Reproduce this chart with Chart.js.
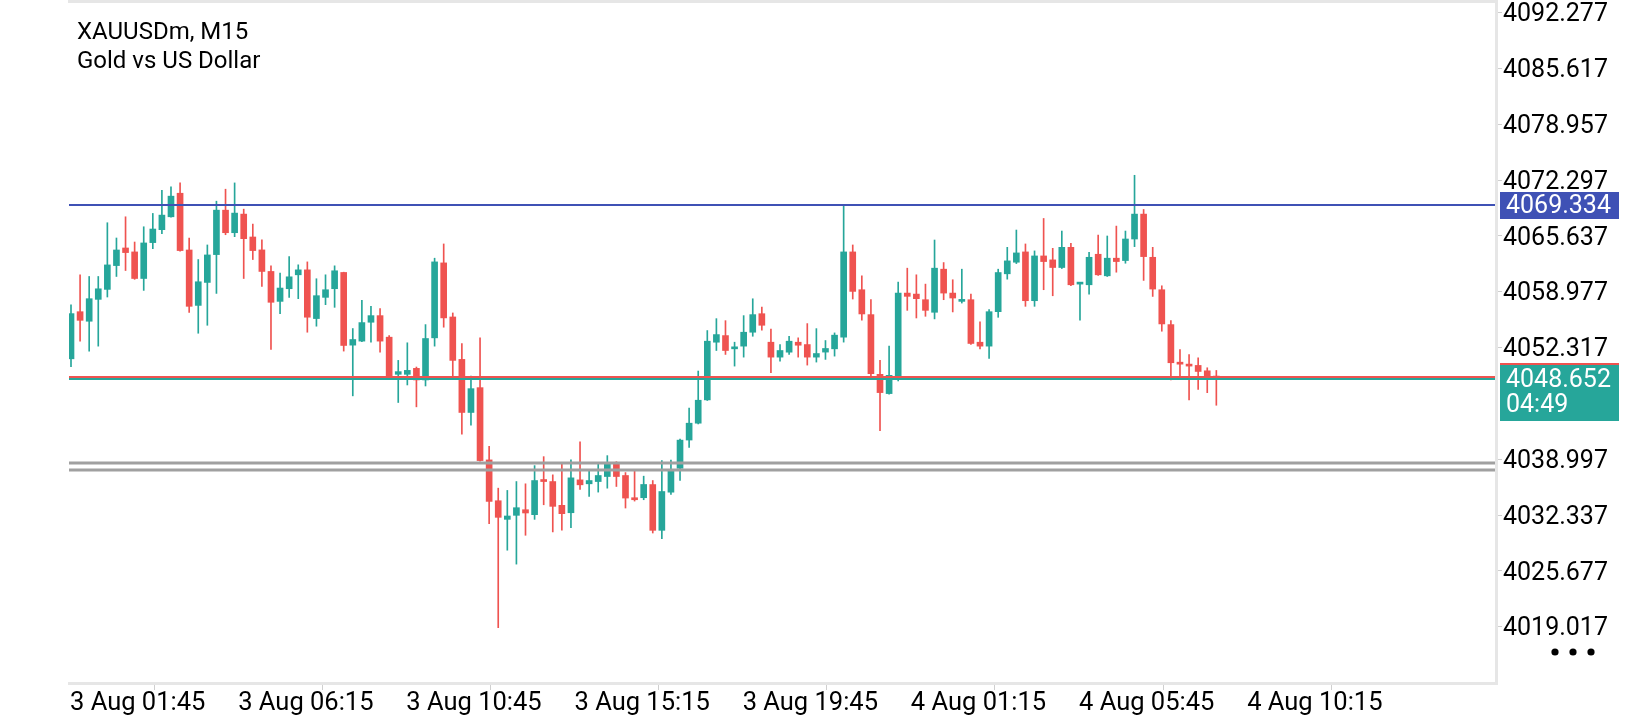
<!DOCTYPE html>
<html>
<head>
<meta charset="utf-8">
<script src="https://cdn.jsdelivr.net/npm/chart.js@4.4.1/dist/chart.umd.min.js"></script>
<style>
html, body { margin: 0; padding: 0; background: #fff; }
#wrap { width: 1640px; height: 720px; }
</style>
</head>
<body>
<div id="wrap"><canvas id="chart" width="1640" height="720"></canvas></div>
<script>
// symbol header
var symbolTitle = 'XAUUSDm, M15';
var symbolName = 'Gold vs US Dollar';

// time axis labels (left to right)
var timeLabels = ['3 Aug 01:45', '3 Aug 06:15', '3 Aug 10:45', '3 Aug 15:15',
	'3 Aug 19:45', '4 Aug 01:15', '4 Aug 05:45', '4 Aug 10:15'];

// price axis labels shown on the right
var priceTicks = [4092.277, 4085.617, 4078.957, 4072.297, 4065.637, 4058.977,
	4052.317, 4038.997, 4032.337, 4025.677, 4019.017];

// M15 candles
var opens = [4050.97,4056.59,4055.45,4058.06,4059.25,4062.09,4064.19,4063.72,4060.55,4064.83,
	4066.37,4067.91,4070.72,4063.95,4057.34,4060.08,4063.40,4068.70,4066.01,4068.23,
	4065.50,4063.96,4061.39,4057.82,4059.33,4060.99,4061.58,4055.77,4058.30,4059.33,
	4061.27,4052.60,4053.08,4055.33,4056.12,4053.55,4049.12,4049.12,4049.83,4048.45,
	4053.47,4062.41,4055.96,4050.90,4044.57,4047.53,4038.91,4034.04,4031.82,4032.30,
	4032.97,4032.38,4036.57,4036.33,4033.49,4032.61,4036.53,4036.06,4036.33,4036.93,
	4038.55,4037.05,4034.40,4034.40,4035.97,4030.51,4035.06,4037.91,4041.28,4043.29,
	4046.07,4052.95,4053.74,4052.16,4052.48,4054.14,4056.35,4052.95,4051.17,4051.76,
	4052.95,4052.67,4051.17,4051.77,4052.16,4053.55,4063.72,4059.21,4056.24,4049.12,
	4046.82,4048.92,4058.81,4058.69,4058.02,4056.52,4061.66,4058.81,4057.82,4058.02,
	4052.95,4052.48,4056.59,4061.11,4062.49,4063.72,4057.90,4063.24,4062.77,4061.86,
	4064.27,4059.88,4059.80,4063.44,4060.87,4062.97,4062.69,4065.26,4068.23,4063.08,
	4059.21,4055.05,4050.37,4050.33,4050.18,4049.54,4048.91];
var highs = [4057.42,4060.99,4060.79,4060.79,4067.20,4065.38,4067.91,4064.90,4066.72,4068.31,
	4071.08,4071.47,4071.95,4065.38,4062.81,4064.55,4069.77,4071.20,4071.95,4068.82,
	4067.04,4065.15,4062.06,4061.19,4063.17,4062.18,4062.53,4060.52,4060.99,4062.06,
	4061.30,4054.58,4057.94,4057.23,4056.95,4053.75,4050.78,4052.88,4049.99,4055.05,
	4062.97,4064.67,4056.44,4052.80,4048.92,4053.47,4040.53,4035.54,4035.27,4036.33,
	4036.06,4038.23,4039.30,4037.13,4038.55,4038.91,4041.08,4037.64,4038.51,4039.42,
	4038.70,4037.40,4037.64,4036.97,4036.45,4038.82,4038.90,4041.40,4045.08,4049.51,
	4054.34,4055.76,4055.52,4052.95,4056.12,4058.13,4057.15,4054.53,4052.67,4053.66,
	4053.47,4055.17,4054.57,4053.15,4054.06,4069.30,4064.55,4060.87,4058.02,4050.78,
	4052.48,4060.12,4061.78,4060.99,4059.88,4065.14,4062.45,4060.40,4061.66,4058.69,
	4055.37,4056.83,4061.66,4064.27,4066.33,4064.67,4063.84,4067.71,4064.15,4066.21,
	4064.75,4059.99,4063.68,4065.74,4065.62,4066.80,4066.21,4072.86,4068.78,4064.27,
	4059.68,4055.53,4052.08,4051.48,4051.09,4049.90,4049.58];
var lows = [4050.03,4053.07,4051.88,4052.48,4058.34,4060.79,4061.50,4060.45,4059.13,4064.11,
	4065.89,4067.85,4063.80,4056.51,4054.02,4054.97,4058.77,4065.77,4065.54,4060.55,
	4062.81,4059.61,4052.09,4056.36,4058.30,4058.14,4054.14,4054.86,4057.43,4057.11,
	4051.89,4046.55,4053.00,4052.96,4051.77,4048.60,4045.76,4047.85,4045.24,4047.73,
	4052.48,4054.74,4048.52,4041.99,4043.06,4038.75,4031.31,4018.90,4028.14,4026.48,
	4029.92,4031.82,4033.56,4030.32,4030.52,4030.84,4035.38,4034.55,4035.07,4035.54,
	4035.74,4033.17,4034.00,4034.16,4030.19,4029.52,4034.78,4036.45,4040.41,4043.20,
	4046.00,4051.96,4051.49,4050.10,4051.17,4053.66,4054.38,4049.31,4050.69,4051.49,
	4051.17,4050.22,4050.58,4050.90,4051.29,4052.96,4058.10,4055.57,4048.80,4042.40,
	4046.75,4048.33,4056.75,4055.84,4056.04,4055.73,4058.02,4056.56,4057.62,4052.68,
	4052.16,4051.01,4055.92,4060.47,4062.33,4057.23,4057.23,4059.21,4058.49,4061.74,
	4059.68,4055.57,4058.69,4060.91,4060.79,4061.30,4062.37,4064.35,4060.32,4058.41,
	4054.26,4048.44,4048.71,4046.06,4047.33,4046.93,4045.43];
var closes = [4056.36,4055.56,4058.14,4059.32,4062.17,4063.95,4063.64,4060.55,4064.79,4066.45,
	4068.11,4070.37,4063.88,4057.23,4060.16,4063.36,4068.70,4066.01,4068.35,4065.30,
	4063.88,4061.39,4057.71,4059.41,4060.75,4061.58,4055.93,4058.50,4059.21,4061.47,
	4052.56,4053.27,4055.29,4056.12,4053.08,4048.84,4049.44,4049.59,4048.45,4053.39,
	4062.53,4055.85,4050.78,4044.57,4047.41,4038.83,4033.96,4032.06,4032.22,4033.21,
	4032.58,4036.45,4036.33,4033.37,4032.50,4036.77,4035.94,4036.45,4037.05,4038.55,
	4036.93,4034.36,4034.16,4035.98,4030.51,4035.14,4037.63,4041.27,4043.29,4046.03,
	4053.07,4053.86,4051.96,4052.28,4054.14,4056.24,4054.97,4051.17,4051.96,4053.07,
	4052.59,4051.17,4051.60,4052.20,4053.79,4063.72,4059.01,4056.32,4049.20,4046.94,
	4049.00,4058.81,4058.42,4058.14,4056.75,4061.78,4058.81,4058.22,4057.94,4052.80,
	4052.48,4056.59,4061.26,4062.65,4063.60,4057.90,4063.24,4062.57,4061.86,4064.27,
	4059.80,4059.96,4063.08,4060.99,4062.97,4062.57,4065.26,4068.23,4063.16,4059.29,
	4055.13,4050.50,4050.33,4050.10,4049.46,4048.83,4048.652];

// horizontal levels
var levelBlue = 4069.334;
var levelsGrey = [4038.55, 4037.70];
var bidPrice = 4048.652;
var countdown = '04:49';

// ---- layout ----
var UP = '#26a69a', DOWN = '#ef5350', BLUE = '#3f51b5', GREY = '#a0a0a0', FRAME = '#e6e6e6';
var TITLE_FONT = '24px Roboto', TAG_FONT = '25px Roboto';
var PLOT_LEFT = 69, PLOT_TOP = 2, AXIS_W = 143, AXIS_H = 37;
var BAR_PX = 9.09, FIRST_BAR_X = 71;      // bar spacing and centre of first bar in px
var LABEL_STEP = 18.5, LABEL_START = -0.11; // time labels, in bars
var Y_MIN = 4012.30, Y_MAX = 4093.53;

var colors = [];
var wicks = [];
var bodies = [];
for (var i = 0; i < opens.length; i++) {
	colors[i] = closes[i] >= opens[i] ? UP : DOWN;
	wicks.push({x: i, y: [lows[i], highs[i]]});
	bodies.push({x: i, y: [opens[i], closes[i]]});
}

var overlay = {
	id: 'overlay',
	afterDatasetsDraw: function(chart) {
		var ctx = chart.ctx, a = chart.chartArea, ys = chart.scales.y;
		function band(v, color, from, w) {
			var p = Math.round(ys.getPixelForValue(v));
			ctx.fillStyle = color;
			ctx.fillRect(a.left, p + from, a.right - a.left, w);
		}
		ctx.save();
		band(levelBlue, BLUE, -1, 2);
		levelsGrey.forEach(function(v){ band(v, GREY, -1.5, 3); });
		// bid line: red edge above, green below
		band(bidPrice, DOWN, -2, 2);
		band(bidPrice, UP, 0, 2);
		ctx.restore();
	},
	afterDraw: function(chart) {
		var ctx = chart.ctx, a = chart.chartArea, ys = chart.scales.y;
		ctx.save();
		// frame
		ctx.fillStyle = FRAME;
		ctx.fillRect(a.left - 1, 0, a.right - a.left + 2, 3);
		ctx.fillRect(a.right - 2, 0, 3, a.bottom + 2);
		ctx.fillRect(a.left - 1, a.bottom - 1, a.right - a.left + 2, 3);

		ctx.textBaseline = 'middle';
		ctx.textAlign = 'left';

		// title
		ctx.font = TITLE_FONT;
		ctx.fillStyle = '#000';
		ctx.fillText(symbolTitle, 77, 33);
		ctx.fillText(symbolName, 77, 62);

		ctx.font = TAG_FONT;
		// blue level tag
		var pb = Math.round(ys.getPixelForValue(levelBlue));
		ctx.fillStyle = BLUE;
		ctx.fillRect(a.right + 3, pb - 13, 119, 27);
		ctx.fillStyle = '#fff';
		ctx.fillText(levelBlue.toFixed(3), a.right + 9, pb + 2);

		// bid tag with countdown
		var pg = Math.round(ys.getPixelForValue(bidPrice));
		ctx.fillStyle = UP;
		ctx.fillRect(a.right + 3, pg - 15, 119, 58);
		ctx.fillStyle = DOWN;
		ctx.fillRect(a.right + 3, pg - 15, 119, 2);
		ctx.fillStyle = '#fff';
		ctx.fillText(bidPrice.toFixed(3), a.right + 9, pg + 3);
		ctx.fillText(countdown, a.right + 9, pg + 28);

		// menu dots
		ctx.fillStyle = '#000';
		[1555, 1573, 1591].forEach(function(x){
			ctx.beginPath();
			ctx.arc(x, 652, 3.6, 0, Math.PI * 2);
			ctx.fill();
		});
		ctx.restore();
	}
};

new Chart(document.getElementById('chart'), {
	type: 'bar',
	data: {
		datasets: [{
			label: 'wick',
			data: wicks,
			backgroundColor: colors,
			barThickness: 1,
			grouped: false,
			order: 2
		}, {
			label: 'body',
			data: bodies,
			backgroundColor: colors,
			barThickness: 6,
			minBarLength: 2,
			grouped: false,
			order: 1
		}]
	},
	options: {
		responsive: false,
		animation: false,
		devicePixelRatio: 1,
		events: [],
		layout: { padding: { left: PLOT_LEFT, top: PLOT_TOP, right: 0, bottom: 0 } },
		plugins: { legend: { display: false }, tooltip: { enabled: false } },
		scales: {
			x: {
				type: 'linear',
				offset: false,
				min: (PLOT_LEFT - FIRST_BAR_X) / BAR_PX,
				max: (1640 - AXIS_W - FIRST_BAR_X) / BAR_PX,
				border: { display: false },
				grid: { drawOnChartArea: false, drawTicks: true, tickLength: 7, color: '#cfcfcf' },
				ticks: {
					autoSkip: false,
					maxRotation: 0,
					align: 'start',
					padding: 0,
					color: '#000',
					font: { family: 'Roboto', size: 25.5, lineHeight: 1.05 },
					callback: function(v, idx) { return timeLabels[idx]; }
				},
				afterBuildTicks: function(axis) {
					axis.ticks = timeLabels.map(function(l, k){ return {value: LABEL_START + k * LABEL_STEP}; });
				},
				afterFit: function(axis) {
					axis.height = AXIS_H;
					axis.paddingLeft = 0;
					axis.paddingRight = 0;
				}
			},
			y: {
				type: 'linear',
				position: 'right',
				min: Y_MIN,
				max: Y_MAX,
				border: { display: false },
				grid: { drawOnChartArea: false, drawTicks: true, tickLength: 5, color: '#cfcfcf' },
				ticks: {
					padding: 1,
					labelOffset: 2.5,
					color: '#000',
					font: { family: 'Roboto', size: 25, lineHeight: 0.8 },
					callback: function(v) { return v.toFixed(3); }
				},
				afterBuildTicks: function(axis) {
					axis.ticks = priceTicks.map(function(v){ return {value: v}; });
				},
				afterFit: function(axis) {
					axis.width = AXIS_W;
					axis.paddingTop = 0;
					axis.paddingBottom = 0;
				}
			}
		}
	},
	plugins: [overlay]
});
</script>
</body>
</html>
